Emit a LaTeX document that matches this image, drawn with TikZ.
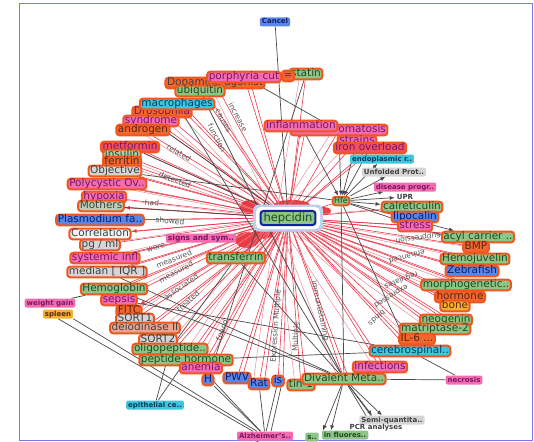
\documentclass[tikz,border=0pt]{standalone}
\usepackage{fontspec}
\setmainfont{DejaVu Sans}
\usetikzlibrary{arrows.meta}
\pgfdeclarelayer{glow}\pgfdeclarelayer{bg}
\pgfsetlayers{glow,bg,main}
\definecolor{ringO}{HTML}{F0561E}
\definecolor{gfill}{HTML}{8FC487}
\definecolor{gtext}{HTML}{1E4A1E}
\definecolor{pfill}{HTML}{F36CB0}
\definecolor{ptext}{HTML}{7A1666}
\definecolor{bfill}{HTML}{5A86E6}
\definecolor{btext}{HTML}{0E1E6A}
\definecolor{cfill}{HTML}{3EC6DE}
\definecolor{ctext}{HTML}{0B3A55}
\definecolor{grfill}{HTML}{D5D5D5}
\definecolor{grtext}{HTML}{404040}
\definecolor{ofill}{HTML}{F2672E}
\definecolor{otext}{HTML}{5A2416}
\definecolor{yfill}{HTML}{F4B12E}
\definecolor{redfill}{HTML}{F2505C}
\definecolor{edgeR}{HTML}{E8384A}
\definecolor{edgeP}{HTML}{F08A96}
\definecolor{edgeK}{HTML}{484848}
\definecolor{labc}{HTML}{555555}
\definecolor{haloc}{HTML}{BFD0EA}
\definecolor{framec}{HTML}{7B7BE8}
\definecolor{hepblue}{HTML}{10249A}
\tikzset{
 rn/.style={draw=ringO, line width=2pt, rounded corners=3pt, inner xsep=1.6pt, inner ysep=0.5pt, text height=7.6pt, text depth=2pt, font=\fontsize{10.5}{10.5}\selectfont},
 gn/.style={rn, fill=gfill, text=gtext},
 pn/.style={rn, fill=pfill, text=ptext},
 bn/.style={rn, fill=bfill, text=btext},
 cn/.style={rn, fill=cfill, text=ctext},
 grn/.style={rn, fill=grfill, text=grtext},
 on/.style={rn, fill=ofill, text=otext},
 yn/.style={rn, fill=yfill, text=otext},
 sat/.style={rounded corners=2pt, inner xsep=2pt, inner ysep=1pt, text height=5.5pt, text depth=1.5pt, font=\fontsize{7}{7}\selectfont\bfseries},
 re/.style={draw=edgeR, line width=0.6pt},
 pe/.style={draw=edgeP, line width=0.5pt},
 ke/.style={draw=edgeK, line width=0.7pt},
 rtip/.style={-{Latex[length=5pt,width=4pt]}},
 ktip/.style={-{Latex[length=5pt,width=4pt]}},
 lab/.style={font=\fontsize{7.5}{7.5}\selectfont, text=labc, inner sep=0pt},
 frame/.style={draw=framec, line width=1pt}
}
\begin{document}
\begin{tikzpicture}[x=1pt,y=-1pt]
\useasboundingbox (0,0) rectangle (534,441);
\draw[frame] (19.5,3.5) rectangle (532.5,440.5);

% satellites
\node[sat,fill=bfill,text=btext] (cancel) at (275,22) {Cancel};
\node[sat,fill=pfill,text=ptext] (weight) at (50,303) {weight gain};
\node[sat,fill=yfill,text=otext] (spleen) at (58,314) {spleen};
\node[sat,fill=cfill,text=ctext] (epith) at (155,405) {epithelial ce..};
\node[sat,fill=pfill,text=ptext] (alz) at (265,436) {Alzheimer's..};
\node[sat,fill=gfill,text=gtext] (sgreen) at (312,437) {s..};
\node[sat,fill=grfill,text=grtext] (semi) at (392,420) {Semi-quantita..};
\node[sat,text=grtext] (pcr) at (376,427) {PCR analyses};
\node[sat,fill=gfill,text=gtext] (fluor) at (345,435) {in fluores..};
\node[sat,fill=pfill,text=ptext] (necro) at (464,380) {necrosis};
\node[sat,fill=cfill,text=ctext] (endo) at (382,159) {endoplasmic r..};
\node[sat,fill=grfill,text=grtext] (unfold) at (394,172) {Unfolded Prot..};
\node[sat,fill=pfill,text=ptext] (disea) at (405,187) {disease progr..};
\node[sat,fill=white,text=grtext] (upr) at (405,197) {UPR};
\coordinate (alzB) at (252,446);

% hepcidin
\node[fill=haloc, rounded corners=6pt, minimum width=70pt, minimum height=27pt] (hephalo) at (288,218) {};
\node[fill=white, rounded corners=5pt, minimum width=64pt, minimum height=22pt] (hepwhite) at (288,218) {};
\node[draw=hepblue, line width=2pt, fill=gfill, text=gtext, rounded corners=3pt, inner xsep=3pt, inner ysep=1.5pt, font=\fontsize{11.5}{11.5}\selectfont] (hep) at (288,218) {hepcidin};

% top
\node[on,text=grtext] (dopa) at (215,83) {Dopamine agonist};
\node[gn] (atin) at (306,74) {statin};
\node[pn] (porph) at (244,77) {porphyria cut};
\node[on,text=ptext] (eq) at (288,76) {=};
\node[gn] (ubiq) at (200,91) {ubiquitin};
% left
\node[on,text=ptext] (droso) at (162,112) {Drosophila};
\node[cn] (macro) at (177,104) {macrophages};
\node[pn] (syndr) at (151,121) {syndrome};
\node[on] (andro) at (143,130) {androgen};
\node[rn,fill=redfill,text=ptext] (metf) at (130,147) {metformin};
\node[rn,fill=grfill!50!gfill,text=gtext] (insul) at (122,155) {insulin};
\node[on] (ferri) at (122,162) {ferritin};
\node[grn] (objec) at (115,171) {Objective};
\node[pn] (polyc) at (107,184) {Polycystic Ov..};
\node[pn] (hypox) at (104,197) {hypoxia};
\node[rn,fill=grfill!60!gfill,text=grtext] (mothe) at (101,206) {Mothers};
\node[bn] (plasm) at (100,220) {Plasmodium fa..};
\node[rn,fill=grfill!25,text=grtext] (corre) at (100,234) {Correlation};
\node[grn] (pgml) at (100,245) {pg / ml};
\node[pn] (syste) at (105,258) {systemic infl};
\node[grn] (media) at (107,272) {median [ IQR ]};
\node[gn] (hemog) at (114,289) {Hemoglobin};
\node[pn] (sepsi) at (119,300) {sepsis};
\node[on] (fitc) at (129,311) {FITC};
\node[grn] (sorta) at (135,319) {SORT1};
\node[rn,fill=grfill!60!ofill,text=grtext] (dehyd) at (145,328) {deiodinase II};
\node[grn] (sortb) at (158,340) {SORT2};
\node[gn] (oligo) at (170,349) {oligopeptide..};
\node[gn] (pepti) at (186,360) {peptide hormone};
\node[pn] (anemi) at (201,368) {anemia};
\node[bn] (hnode) at (208,380) {H};
\node[bn] (pwv) at (237,378) {PWV};
\node[bn] (rat) at (259,384) {Rat};
\node[bn] (isn) at (278,381) {is};
\node[gn] (tinone) at (301,385) {tin-1};
% right
\node[pn] (hemoc) at (339,130) {hemochromatosis};
\node[pn] (infla) at (301,126) {inflammation};
\node[pn] (strai) at (357,141) {strains};
\node[rn,fill=redfill,text=ptext] (ironov) at (370,148) {iron overload};
\node[gn,font=\fontsize{8}{8}\selectfont,text height=6pt,text depth=1.5pt] (hfe) at (341,201) {Hfe};
\node[gn] (calre) at (412,207) {calreticulin};
\node[bn] (bluebk) at (415,217) {lipocalin};
\node[pn] (stres) at (415,226) {stress};
\node[gn] (acyl) at (478,237) {acyl carrier ..};
\node[on] (bmp) at (476,247) {BMP};
\node[gn] (hemoj) at (475,259) {Hemojuvelin};
\node[bn] (zebra) at (472,271) {Zebrafish};
\node[gn] (morph) at (466,285) {morphogenetic..};
\node[on] (hormo) at (460,297) {hormone};
\node[yn] (bone) at (455,306) {bone};
\node[gn] (neoge) at (446,320) {neogenin};
\node[gn] (matri) at (435,329) {matriptase-2};
\node[on] (ilsix) at (417,339) {IL-6 ...};
\node[cn] (cereb) at (410,351) {cerebrospinal..};
\node[pn] (infec) at (380,367) {infections};
\node[gn] (dival) at (344,379) {Divalent Meta..};
\node[gn] (trans) at (236,258) {transferrin};
\node[sat,fill=pfill,text=ptext,font=\fontsize{7.5}{7.5}\selectfont\bfseries] (signs) at (201,238) {signs and sym..};

% edge labels
\node[lab,rotate=-62] (l1) at (238,117) {increase};
\node[lab,rotate=-62] (l2) at (223,121) {causes};
\node[lab,rotate=-62] (l3) at (217,138) {function};
\node[lab,rotate=-30] (l4) at (179,153) {related};
\node[lab,rotate=-20] (l5) at (175,180) {detected};
\node[lab,rotate=-5] (l6) at (152,203) {had};
\node[lab,rotate=-5] (l7) at (170,221) {showed};
\node[lab,rotate=15] (l8) at (156,248) {were};
\node[lab,rotate=22] (l9) at (174,259) {measured};
\node[lab,rotate=28] (l10) at (176,272) {measured};
\node[lab,rotate=35] (l11) at (181,287) {associated};
\node[lab,rotate=42] (l12) at (188,301) {treated};
\node[lab,rotate=70] (l13) at (222,330) {found};
\node[lab,rotate=86] (l14) at (276,326) {Expression Multiple};
\node[lab,rotate=88] (l15) at (296,337) {Multiple};
\node[lab,rotate=-78] (l16) at (320,311) {immunostaining};
\node[lab,rotate=187] (l17) at (418,238) {suppression};
\node[lab,rotate=195] (l18) at (407,257) {enhanced};
\node[lab,rotate=202] (l19) at (401,280) {regulates};
\node[lab,rotate=212] (l20) at (391,296) {expressed};
\node[lab,rotate=222] (l21) at (377,318) {binds};

% red glow around hepcidin
\begin{pgfonlayer}{glow}
\fill[edgeR!90!orange] (250,207) ellipse [x radius=10pt, y radius=7pt];
\fill[edgeR!90!orange] (292,205) ellipse [x radius=18pt, y radius=5pt];
\fill[edgeR!90!orange] (247,240) ellipse [x radius=12pt, y radius=8pt];
\fill[edgeR!90!orange] (323,211) ellipse [x radius=8pt, y radius=4pt];
\fill[edgeR!90!orange] (263,233) ellipse [x radius=10pt, y radius=6pt];
\end{pgfonlayer}

\begin{pgfonlayer}{bg}
\foreach \n in {porph,atin,dopa,ubiq,droso,syndr,andro,metf,insul,ferri,polyc,hypox,plasm,pgml,syste,media,hemog,sepsi,sorta,dehyd,sortb,oligo,pepti,anemi,hnode,pwv,rat,isn,tinone,dival,infec,ilsix,matri,neoge,bone,morph,hemoj,bmp,acyl,stres,calre,hfe,ironov,strai,hemoc,trans,signs}
  \draw[re] (hep) -- (\n);
\foreach \n in {macro,objec,mothe,corre,fitc,zebra,hormo,infla,cereb}
  \draw[re,rtip] (hep) -- (\n);
\foreach \n in {porph,ubiq,macro,syndr,metf,objec,polyc,mothe,plasm,corre,syste,media,hemog,fitc,dehyd,oligo,pepti,anemi,pwv,rat,isn,tinone,dival,infec,cereb,matri,neoge,bone,hormo,morph,zebra,hemoj,acyl,stres,ironov,infla}
  \draw[re,rtip] ([xshift=5pt]\n.center) -- (hep);
\foreach \n in {atin,dopa,droso,andro,insul,ferri,hypox,pgml,sepsi,sorta,sortb,hnode,tinone,infec,ilsix,neoge,morph,bmp,hemoj,calre,strai,hemoc,macro,polyc,syste,oligo,pepti,anemi,rat,dival,matri,hormo}
  \draw[pe] ([xshift=-6pt]\n.center) -- ([xshift=-12pt]hep.center);

\draw[ke] (cancel) -- (hep);
\draw[ke] (porph) -- (strai);
\draw[ke] (atin) -- (hnode);
\draw[ke] (ubiq) -- (dival);
\draw[ke] (macro) -- (dival);
\draw[ke] (syndr) -- (hep);
\draw[ke] (metf) -- (hep);
\draw[ke] (objec) -- (hfe);
\draw[ke] (mothe) -- (hep);
\draw[ke] (media) -- (dival);
\draw[ke] (hemog) -- (dival);
\draw[ke] (sepsi) -- (cereb);
\draw[ke,draw=green!35!black] (weight) -- (hemog);
\draw[ke] (spleen.south east) -- ([xshift=-8pt]alz.north);
\draw[ke] (spleen.south) -- ([xshift=-12pt]alz.north);
\draw[ke] (epith) -- (oligo);
\draw[ke] (epith) -- (pepti);
\draw[ke] (alz) -- (hnode);
\draw[ke] (alz) -- (anemi);
\draw[ke] (alz) -- (rat);
\draw[ke] (alz) -- (isn);
\draw[ke] ([xshift=6pt]alz.north) -- ([xshift=3pt]isn.south);
\draw[ke,ktip] (alzB) -- (alz);
\draw[ke,ktip] (dival) -- ([xshift=-22pt]fluor.north);
\draw[ke,ktip] (dival) -- ([xshift=-14pt]fluor.north);
\draw[ke,ktip] (dival) -- ([xshift=-6pt]pcr.north);
\draw[ke,ktip] (dival) -- (pcr.north);
\draw[ke,ktip] (dival) -- ([xshift=-20pt]semi.north);
\draw[ke,ktip] (dival) -- ([xshift=-10pt]semi.north);
\draw[ke] (necro) -- (cereb);
\draw[ke] (necro) -- (dival);
\draw[ke] (pepti) -- (cereb);
\foreach \n in {endo,unfold,disea,upr,calre,stres,acyl}
  \draw[ke,ktip] (hfe) -- (\n);
\foreach \n in {infla,strai,ironov,hemoc}
  \draw[ke,ktip] (\n) -- (hfe);
\draw[ke] (hfe) -- (dival);
\draw[ke] (hfe) -- (cereb);
\draw[ke] (trans) -- (dival);
\draw[ke] (trans) -- (oligo);
\draw[ke] (stres) -- (bmp);
\end{pgfonlayer}
\end{tikzpicture}
\end{document}
